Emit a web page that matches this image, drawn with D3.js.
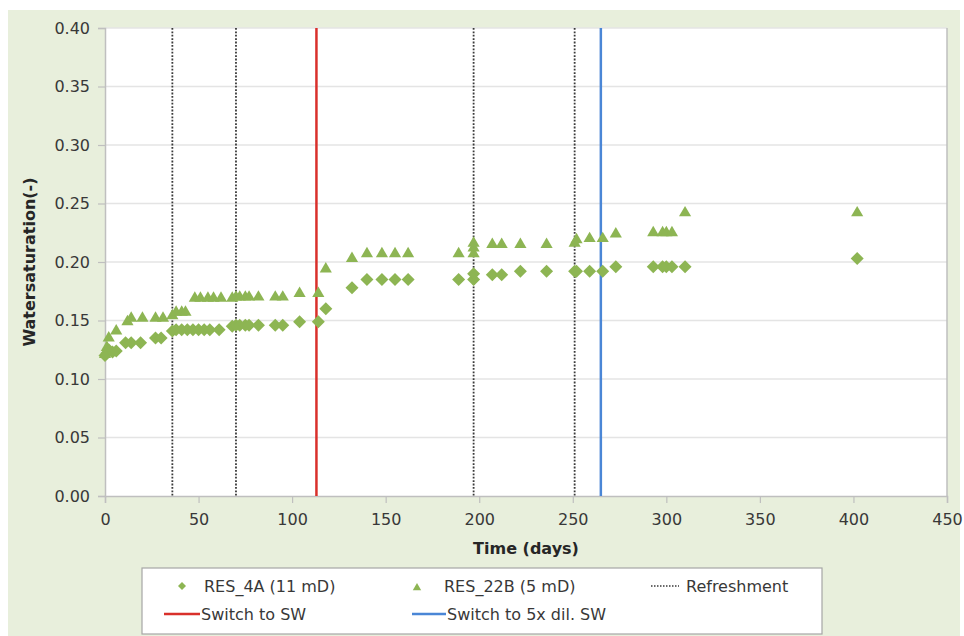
<!doctype html>
<html>
<head>
<meta charset="utf-8">
<title>Watersaturation</title>
<style>
* {padding:0;margin:0}
body {background:#fff}
text {font-family:"DejaVu Sans", Verdana, sans-serif}
</style>
</head>
<body>
<div id="chart"></div>
<script src="https://d3js.org/d3.v7.min.js"></script>
<script>

// RES_4A (11 mD) - diamonds
const daysA = [0,1,2,4,6, 11,14,19, 27,30, 36,38,41,44,47,50,53,56,61,
	68,70,72,75,77,82, 91,95, 104,114,118, 132,140,148,155,162,
	189,197,197, 207,212,222,236, 251,252,259,266,273, 293,298,300,303,310, 402];
const satA = [0.120,0.122,0.125,0.123,0.124, 0.131,0.131,0.131, 0.135,0.135,
	0.141,0.142,0.142,0.142,0.142,0.142,0.142,0.142,0.142,
	0.145,0.146,0.146,0.146,0.146,0.146, 0.146,0.146, 0.149,0.149,0.160,
	0.178,0.185,0.185,0.185,0.185, 0.185,0.185,0.190, 0.189,0.189,0.192,0.192,
	0.192,0.192,0.192,0.192,0.196, 0.196,0.196,0.196,0.196,0.196, 0.203];

// RES_22B (5 mD) - triangles
const daysB = [0,1,2,6, 12,14,20,27,31, 36,38,41,43, 48,51,55,58,62,
	68,70,72,75,77,82, 91,95, 104,114, 118, 132,140,148,155,162,
	189,197,197,197, 207,212,222,236, 251,252,259,266,273, 293,298,300,303,310, 402];
const satB = [0.122,0.128,0.136,0.142, 0.150,0.153,0.153,0.153,0.153,
	0.155,0.158,0.158,0.158, 0.170,0.170,0.170,0.170,0.170,
	0.170,0.171,0.171,0.171,0.171,0.171, 0.171,0.171, 0.174,0.174, 0.195,
	0.204,0.208,0.208,0.208,0.208, 0.208,0.208,0.213,0.217, 0.216,0.216,0.216,0.216,
	0.217,0.220,0.221,0.221,0.225, 0.226,0.226,0.226,0.226,0.243, 0.243];

const refreshDays = [36, 70, 197, 251];
const switchSW = [113];
const switchDil = [265];

const xTicks = [0,50,100,150,200,250,300,350,400,450];
const yTicks = [0,0.05,0.10,0.15,0.20,0.25,0.30,0.35,0.40];

const green = "#8db553";
const textCol = "#383838";
const W = 964, H = 636;

const svg = d3.select("#chart").append("svg")
	.attr("width", W).attr("height", H);

// outer panel
svg.append("rect").attr("x", 8).attr("y", 10).attr("width", 952).attr("height", 626)
	.attr("fill", "#e8efdc");

const x = d3.scaleLinear().domain([0, 450]).range([105, 947]);
const y = d3.scaleLinear().domain([0, 0.4]).range([496, 28]);

// plot area
svg.append("rect").attr("x", x(0)).attr("y", y(0.4))
	.attr("width", x(450) - x(0)).attr("height", y(0) - y(0.4))
	.attr("fill", "#fff");

// gridlines
svg.append("g").selectAll("line").data(yTicks.slice(1)).enter()
	.append("line")
	.attr("x1", x(0)).attr("x2", x(450))
	.attr("y1", d => y(d)).attr("y2", d => y(d))
	.attr("stroke", "#e4e4e4").attr("stroke-width", 1.5);

// right border
svg.append("line").attr("x1", x(450)).attr("x2", x(450))
	.attr("y1", y(0.4)).attr("y2", y(0))
	.attr("stroke", "#bfbfbf").attr("stroke-width", 1.5);

// axes
const xAxis = svg.append("g")
	.attr("transform", "translate(0," + y(0) + ")")
	.call(d3.axisBottom(x).tickValues(xTicks).tickSize(7).tickPadding(11).tickFormat(d3.format("d")));
const yAxis = svg.append("g")
	.attr("transform", "translate(" + x(0) + ",0)")
	.call(d3.axisLeft(y).tickValues(yTicks).tickSize(7).tickPadding(8).tickFormat(d3.format(".2f")));
[xAxis, yAxis].forEach(function(a) {
	a.select(".domain").attr("stroke", "#bfbfbf").attr("stroke-width", 1.5);
	a.selectAll(".tick line").attr("stroke", "#bfbfbf").attr("stroke-width", 1.2);
	a.selectAll(".tick text").attr("font-size", 16).attr("fill", textCol)
		.attr("font-family", "DejaVu Sans");
});

// event lines
svg.append("g").selectAll("line").data(refreshDays).enter()
	.append("line")
	.attr("x1", d => x(d)).attr("x2", d => x(d))
	.attr("y1", y(0.4)).attr("y2", y(0))
	.attr("stroke", "#3a3a3a").attr("stroke-width", 1.8).attr("stroke-dasharray", "1.8,1.6");
svg.append("g").selectAll("line").data(switchSW).enter()
	.append("line")
	.attr("x1", d => x(d)).attr("x2", d => x(d))
	.attr("y1", y(0.4)).attr("y2", y(0))
	.attr("stroke", "#d9302b").attr("stroke-width", 2.5);
svg.append("g").selectAll("line").data(switchDil).enter()
	.append("line")
	.attr("x1", d => x(d)).attr("x2", d => x(d))
	.attr("y1", y(0.4)).attr("y2", y(0))
	.attr("stroke", "#4a86d6").attr("stroke-width", 2.5);

const diamond = s => "M0," + (-s) + "L" + s + ",0L0," + s + "L" + (-s) + ",0Z";
const triangle = s => "M0," + (-s) + "L" + (s * 1.05) + "," + (s * 0.8) + "L" + (-s * 1.05) + "," + (s * 0.8) + "Z";

svg.append("g").selectAll("path").data(daysA.map((d, i) => [d, satA[i]])).enter()
	.append("path")
	.attr("transform", d => "translate(" + x(d[0]) + "," + y(d[1]) + ")")
	.attr("d", diamond(6.5))
	.attr("fill", green);
svg.append("g").selectAll("path").data(daysB.map((d, i) => [d, satB[i]])).enter()
	.append("path")
	.attr("transform", d => "translate(" + x(d[0]) + "," + y(d[1]) + ")")
	.attr("d", triangle(5.8))
	.attr("fill", green);

// axis titles
svg.append("text").attr("x", (x(0) + x(450)) / 2).attr("y", 554)
	.attr("text-anchor", "middle").attr("font-size", 16).attr("font-weight", "bold")
	.attr("fill", "#262626").text("Time (days)");
svg.append("text").attr("transform", "translate(35," + ((y(0) + y(0.4)) / 2) + ") rotate(-90)")
	.attr("text-anchor", "middle").attr("font-size", 16).attr("font-weight", "bold")
	.attr("fill", "#262626").text("Watersaturation(-)");

// legend
const lg = svg.append("g");
lg.append("rect").attr("x", 142).attr("y", 568).attr("width", 680).attr("height", 66)
	.attr("fill", "#fff").attr("stroke", "#a6a6a6").attr("stroke-width", 1.2);
lg.append("path").attr("transform", "translate(182,586)").attr("d", diamond(4)).attr("fill", green);
lg.append("text").attr("x", 204).attr("y", 592).attr("font-size", 16).attr("fill", textCol).text("RES_4A (11 mD)");
lg.append("path").attr("transform", "translate(417,587)").attr("d", triangle(4)).attr("fill", green);
lg.append("text").attr("x", 444).attr("y", 592).attr("font-size", 16).attr("fill", textCol).text("RES_22B (5 mD)");
lg.append("line").attr("x1", 651).attr("x2", 679).attr("y1", 586).attr("y2", 586)
	.attr("stroke", "#3a3a3a").attr("stroke-width", 1.5).attr("stroke-dasharray", "1.5,1.5");
lg.append("text").attr("x", 686).attr("y", 592).attr("font-size", 16).attr("fill", textCol).text("Refreshment");
lg.append("line").attr("x1", 164).attr("x2", 200).attr("y1", 614).attr("y2", 614)
	.attr("stroke", "#d9302b").attr("stroke-width", 2.5);
lg.append("text").attr("x", 201).attr("y", 620).attr("font-size", 16).attr("fill", textCol).text("Switch to SW");
lg.append("line").attr("x1", 412).attr("x2", 446).attr("y1", 614).attr("y2", 614)
	.attr("stroke", "#4a86d6").attr("stroke-width", 2.5);
lg.append("text").attr("x", 447).attr("y", 620).attr("font-size", 16).attr("fill", textCol).text("Switch to 5x dil. SW");

</script>
</body>
</html>
